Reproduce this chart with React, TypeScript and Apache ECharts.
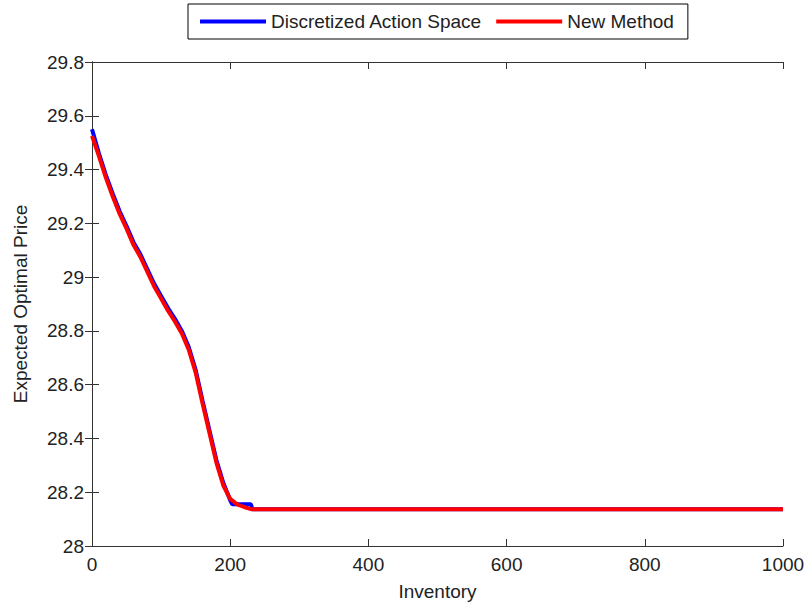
import React, { useEffect, useRef } from "react";
import * as echarts from "echarts";

const inventory = [0, 10, 20, 30, 40, 50, 60, 70, 80, 90, 100, 110, 120, 130, 140, 150, 160, 170, 180, 190, 200, 210, 220, 230, 1000];
const newMethod = [29.525, 29.45, 29.37, 29.3, 29.235, 29.18, 29.12, 29.075, 29.02, 28.965, 28.92, 28.875, 28.835, 28.79, 28.73, 28.645, 28.53, 28.42, 28.31, 28.225, 28.175, 28.155, 28.145, 28.137, 28.137];

const inventoryDisc = [0, 10, 20, 30, 40, 50, 60, 70, 80, 90, 100, 110, 120, 130, 140, 150, 160, 170, 180, 190, 200, 203, 230, 232, 1000];
const discretized = [29.55, 29.46, 29.38, 29.31, 29.245, 29.19, 29.13, 29.085, 29.03, 28.975, 28.93, 28.885, 28.845, 28.8, 28.74, 28.655, 28.54, 28.43, 28.32, 28.235, 28.17, 28.155, 28.155, 28.137, 28.137];

const seriesNames = ["Discretized Action Space", "New Method"];
const xName = "Inventory";
const yName = "Expected Optimal Price";

const FONT = "Liberation Sans, Arial, Helvetica, sans-serif";
const AXIS_COLOR = "#333";
const TEXT_COLOR = "#222";

export default function App() {
  const ref = useRef<HTMLDivElement>(null);
  useEffect(() => {
    if (!ref.current) return;
    const chart = echarts.init(ref.current, undefined, { renderer: "svg" });
    const axisCommon = {
      axisLine: { show: true, lineStyle: { color: AXIS_COLOR, width: 1 } },
      axisTick: { show: true, inside: true, length: 7, lineStyle: { color: AXIS_COLOR } },
      splitLine: { show: false },
    };
    chart.setOption({
      animation: false,
      backgroundColor: "#fff",
      textStyle: { fontFamily: FONT },
      grid: { left: 92, right: 29, top: 62, bottom: 62, containLabel: false },
      legend: {
        data: seriesNames,
        left: 188,
        top: 4,
        padding: [8, 14, 8, 12],
        itemGap: 14,
        itemWidth: 66,
        itemHeight: 4,
        icon: "rect",
        borderColor: "#000",
        borderWidth: 1,
        backgroundColor: "#fff",
        textStyle: { fontSize: 19, color: TEXT_COLOR, fontFamily: FONT },
      },
      xAxis: [
        {
          type: "value",
          min: 0,
          max: 1000,
          interval: 200,
          name: xName,
          nameLocation: "middle",
          nameGap: 36,
          nameTextStyle: { fontSize: 19, color: TEXT_COLOR, fontFamily: FONT },
          axisLabel: {
            fontSize: 19,
            color: TEXT_COLOR,
            margin: 9,
            fontFamily: FONT,
            formatter: (v: number) => String(Math.round(v)),
          },
          ...axisCommon,
        },
        {
          type: "value",
          position: "top",
          min: 0,
          max: 1000,
          interval: 200,
          axisLabel: { show: false },
          ...axisCommon,
        },
      ],
      yAxis: [
        {
          type: "value",
          min: 28,
          max: 29.8,
          interval: 0.2,
          name: yName,
          nameLocation: "middle",
          nameGap: 62,
          nameTextStyle: { fontSize: 19, color: TEXT_COLOR, fontFamily: FONT },
          axisLabel: {
            fontSize: 19,
            color: TEXT_COLOR,
            margin: 8,
            fontFamily: FONT,
            formatter: (v: number) => String(parseFloat(v.toFixed(1))),
          },
          ...axisCommon,
        },
        {
          type: "value",
          position: "right",
          min: 28,
          max: 29.8,
          interval: 0.2,
          axisLabel: { show: false },
          ...axisCommon,
        },
      ],
      series: [
        {
          name: seriesNames[0],
          type: "line",
          data: inventoryDisc.map((x, i) => [x, discretized[i]]),
          showSymbol: false,
          symbol: "none",
          lineStyle: { color: "#0000ff", width: 4 },
          itemStyle: { color: "#0000ff" },
          z: 2,
        },
        {
          name: seriesNames[1],
          type: "line",
          data: inventory.map((x, i) => [x, newMethod[i]]),
          showSymbol: false,
          symbol: "none",
          lineStyle: { color: "#ff0000", width: 4 },
          itemStyle: { color: "#ff0000" },
          z: 3,
        },
      ],
    });
    return () => chart.dispose();
  }, []);
  return (
    <div
      ref={ref}
      style={{ position: "fixed", left: 0, top: 0, width: 812, height: 608, background: "#fff" }}
    />
  );
}
